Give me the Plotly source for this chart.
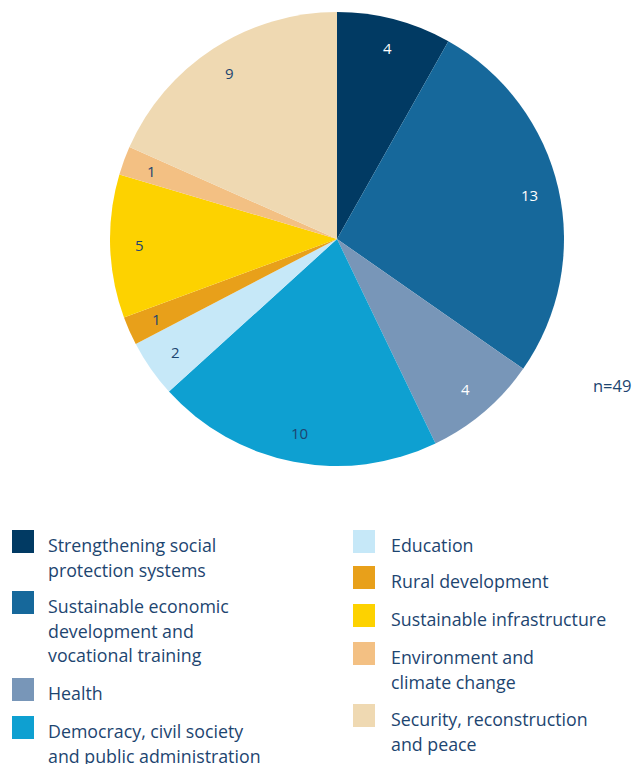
import math
import plotly.graph_objects as go

categories = [
    "Strengthening social<br>protection systems",
    "Sustainable economic<br>development and<br>vocational training",
    "Health",
    "Democracy, civil society<br>and public administration",
    "Education",
    "Rural development",
    "Sustainable infrastructure",
    "Environment and<br>climate change",
    "Security, reconstruction<br>and peace",
]
values = [4, 13, 4, 10, 2, 1, 5, 1, 9]
total_label = "n=49"

colors = ["#013a63", "#16689b", "#7896b8", "#0ea0d1", "#c6e8f8",
          "#e8a01a", "#fdd200", "#f3c083", "#efd9b2"]
label_colors = ["white", "white", "white", "#1d4570", "#1d4570",
                "#1d4570", "#1d4570", "#1d4570", "#1d4570"]

W, H = 641, 764
TXT = "#1d4570"
FONT = "Open Sans"
cx, cy, r = 337, 239, 227

fig = go.Figure(go.Pie(
    values=values, labels=categories, sort=False, direction="clockwise",
    rotation=0, marker=dict(colors=colors, line=dict(width=0)),
    textinfo="none", hoverinfo="label+value", showlegend=False,
    domain=dict(x=[(cx - r) / W, (cx + r) / W],
                y=[1 - (cy + r) / H, 1 - (cy - r) / H]),
))

ann = []
shapes = []
tot = sum(values)
cum = 0
for v, lc in zip(values, label_colors):
    mid = (cum + v / 2) / tot * 2 * math.pi
    cum += v
    px = cx + 0.87 * r * math.sin(mid)
    py = cy - 0.87 * r * math.cos(mid)
    ann.append(dict(x=px / W, y=1 - py / H, xref="paper", yref="paper",
                    text=str(v), showarrow=False, xanchor="center", yanchor="middle",
                    font=dict(family=FONT, size=15, color=lc)))

ann.append(dict(x=633 / W, y=1 - 386 / H, xref="paper", yref="paper", text=total_label,
                showarrow=False, xanchor="right", yanchor="middle",
                font=dict(family=FONT, size=16.5, color=TXT)))

# custom two-column legend
left_tops = [545, 606, 693, 731]
right_tops = [545, 581, 619, 657, 719]
positions = [(12, 46, y) for y in left_tops] + [(353, 389, y) for y in right_tops]
LINE = 24.6
for cat, col, (sx, tx, y0) in zip(categories, colors, positions):
    shapes.append(dict(type="rect", xref="paper", yref="paper",
                       x0=sx / W, x1=(sx + 22) / W,
                       y0=1 - (y0 - 15) / H, y1=1 - (y0 + 8) / H,
                       fillcolor=col, line=dict(width=0)))
    for i, line in enumerate(cat.split("<br>")):
        ann.append(dict(x=tx / W, y=1 - (y0 + i * LINE) / H, xref="paper", yref="paper",
                        text=line, showarrow=False, xanchor="left", yanchor="middle",
                        font=dict(family=FONT, size=17.8, color=TXT)))

fig.update_layout(width=W, height=H, margin=dict(l=0, r=0, t=0, b=0),
                  paper_bgcolor="white", plot_bgcolor="white",
                  annotations=ann, shapes=shapes)
fig.write_html("out.html", config={"displayModeBar": False},
               post_script="document.body.style.margin='0';")
